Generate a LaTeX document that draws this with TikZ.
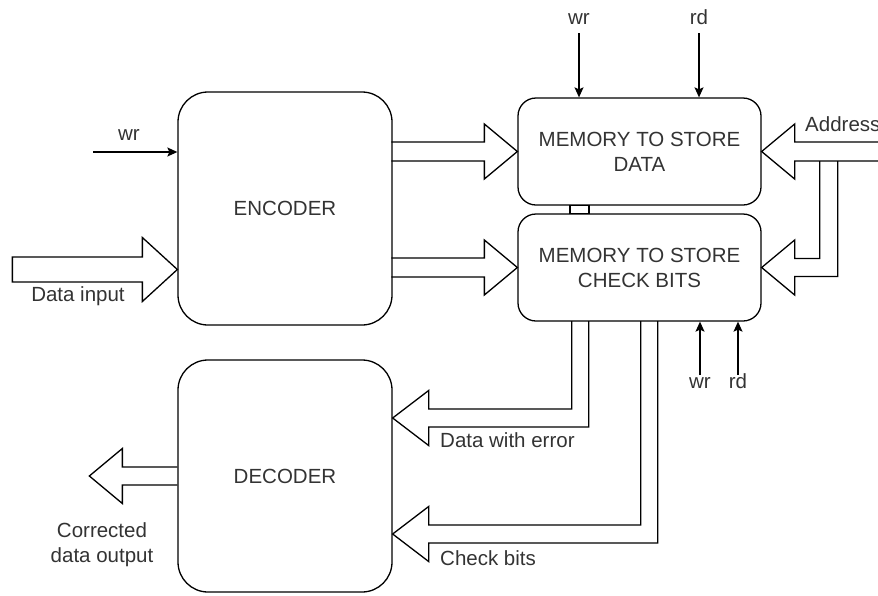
\documentclass[tikz,border=0pt]{standalone}
\usepackage{fontspec}
\setmainfont{Liberation Sans}
\usetikzlibrary{arrows.meta}
\definecolor{ink}{HTML}{000000}
\definecolor{txt}{HTML}{333333}
\begin{document}
\begin{tikzpicture}[x=1pt,y=-1pt,
  font=\fontsize{20.5}{25}\selectfont,
  block/.style={draw=ink, line width=1.3pt, rounded corners=30pt, align=center, text=txt},
  mem/.style={block, rounded corners=18pt, minimum width=243pt, minimum height=107pt},
  coder/.style={block, minimum width=214pt, minimum height=233pt},
  flow/.style={draw=ink, line width=1.3pt, line join=miter},
  sig/.style={draw=ink, line width=1.3pt, -{Stealth[length=10pt,width=9pt,inset=2pt]}},
  lbl/.style={text=txt, inner sep=0pt, anchor=base},
]
\useasboundingbox (0,0) rectangle (878,595);

% main blocks
\node[coder] (enc) at (285,208.5) {ENCODER};
\node[coder, minimum height=232pt] (dec) at (285,476) {DECODER};
\node[mem] (memd) at (639.5,151.5) {MEMORY TO STORE\\DATA};
\node[mem] (memc) at (639.5,267.5) {MEMORY TO STORE\\CHECK BITS};

% short link between the two memories
\draw[flow] ([xshift=-69.5pt]memd.south) rectangle ([xshift=-50.5pt]memc.north);

% encoder outputs into the memories
\draw[flow, shift={(memd.west)}] (-126,-9.5) -- (-33,-9.5) -- (-33,-27.5) -- (0,0) -- (-33,27.5) -- (-33,9.5) -- (-126,9.5);
\draw[flow, shift={(memc.west)}] (-126,-9.5) -- (-33,-9.5) -- (-33,-27.5) -- (0,0) -- (-33,27.5) -- (-33,9.5) -- (-126,9.5);

% data input into the encoder
\draw[flow, shift={([yshift=-61pt]enc.west)}] (0,0) -- (-35,-32) -- (-35,-12.5) -- (-165,-12.5) -- (-165,12.5) -- (-35,12.5) -- (-35,32) -- cycle;
\node[lbl] (ldin) at (78,301) {Data input};

% address bus into both memories
\draw[flow, shift={(memd.east)}] (117,-9.5) -- (33,-9.5) -- (33,-27.5) -- (0,0) -- (33,27.5) -- (33,9.5) -- (117,9.5);
\draw[flow, shift={(memc.east)}] (58,-106.5) -- (58,-9) -- (33,-9) -- (33,-27.5) -- (0,0) -- (33,27.5) -- (33,9) -- (76,9) -- (76,-106.5);
\node[lbl, anchor=base west] (laddr) at (805,131) {Address};

% memory outputs into the decoder
\draw[flow, shift={([yshift=58pt]dec.east)}] (179,-97) -- (179,-9) -- (36,-9) -- (36,-27.5) -- (0,0) -- (36,27.5) -- (36,9) -- (196,9) -- (196,-97);
\node[lbl, anchor=base west] (lerr) at (440,447) {Data with error};
\draw[flow, shift={([yshift=-58pt]dec.east)}] (248,-213) -- (248,-9) -- (36,-9) -- (36,-27.5) -- (0,0) -- (36,27.5) -- (36,9) -- (265,9) -- (265,-213);
\node[lbl, anchor=base west] (lchk) at (440,565) {Check bits};

% decoder output
\draw[flow, shift={(dec.west)}] (0,-9) -- (-55,-9) -- (-55,-27.5) -- (-88,0) -- (-55,27.5) -- (-55,9) -- (0,9);
\node[text=txt, inner sep=0pt, align=center] (lout) at (102,545) {Corrected\\data output};

% control signals
\node[lbl] (wrtop) at (579,24) {wr};
\node[lbl] (rdtop) at (699,24) {rd};
\coordinate (wrtopS) at (579,33);
\coordinate (rdtopS) at (699,33);
\draw[sig] (wrtopS) -- (wrtopS |- memd.north);
\draw[sig] (rdtopS) -- (rdtopS |- memd.north);

\node[lbl] (wrbot) at (700,388) {wr};
\node[lbl] (rdbot) at (738,388) {rd};
\coordinate (wrbotS) at (700,375);
\coordinate (rdbotS) at (738,375);
\draw[sig] (wrbotS) -- (wrbotS |- memc.south);
\draw[sig] (rdbotS) -- (rdbotS |- memc.south);

\node[lbl] (wrenc) at (129,140) {wr};
\coordinate (wrencS) at (93,152);
\draw[sig] (wrencS) -- (wrencS -| enc.west);
\end{tikzpicture}
\end{document}
